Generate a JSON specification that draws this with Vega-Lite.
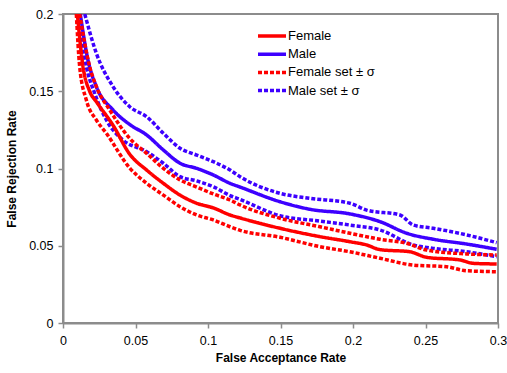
{
  "$schema": "https://vega.github.io/schema/vega-lite/v6.json",
  "width": 435,
  "height": 309,
  "autosize": {"type": "none"},
  "padding": {"left": 63, "top": 14, "right": 9, "bottom": 50},
  "background": "white",
  "config": {
    "font": "Liberation Sans",
    "view": {"stroke": "#8c8c8c", "strokeWidth": 2},
    "axis": {
      "domainColor": "#8c8c8c",
      "domainWidth": 2,
      "tickColor": "#8c8c8c",
      "tickWidth": 1.5,
      "tickSize": 5,
      "grid": false,
      "labelFont": "Liberation Sans",
      "labelFontSize": 12.5,
      "labelColor": "#000000",
      "titleFont": "Liberation Sans",
      "titleFontSize": 12,
      "titleFontWeight": "bold",
      "titleColor": "#000000"
    }
  },
  "data": {
    "values": [
      {"s": "Male set ± σ", "c": "M+", "x": 0.0150, "y": 0.2},
      {"s": "Male set ± σ", "c": "M+", "x": 0.0230, "y": 0.1746},
      {"s": "Male set ± σ", "c": "M+", "x": 0.0345, "y": 0.1530},
      {"s": "Male set ± σ", "c": "M+", "x": 0.0460, "y": 0.1400},
      {"s": "Male set ± σ", "c": "M+", "x": 0.0577, "y": 0.1335},
      {"s": "Male set ± σ", "c": "M+", "x": 0.0692, "y": 0.1228},
      {"s": "Male set ± σ", "c": "M+", "x": 0.0807, "y": 0.1131},
      {"s": "Male set ± σ", "c": "M+", "x": 0.0922, "y": 0.1087},
      {"s": "Male set ± σ", "c": "M+", "x": 0.1037, "y": 0.1044},
      {"s": "Male set ± σ", "c": "M+", "x": 0.1152, "y": 0.0990},
      {"s": "Male set ± σ", "c": "M+", "x": 0.1221, "y": 0.0947},
      {"s": "Male set ± σ", "c": "M+", "x": 0.1497, "y": 0.0839},
      {"s": "Male set ± σ", "c": "M+", "x": 0.1703, "y": 0.0807},
      {"s": "Male set ± σ", "c": "M+", "x": 0.1979, "y": 0.0775},
      {"s": "Male set ± σ", "c": "M+", "x": 0.2094, "y": 0.0731},
      {"s": "Male set ± σ", "c": "M+", "x": 0.2324, "y": 0.0699},
      {"s": "Male set ± σ", "c": "M+", "x": 0.2416, "y": 0.0634},
      {"s": "Male set ± σ", "c": "M+", "x": 0.2554, "y": 0.0613},
      {"s": "Male set ± σ", "c": "M+", "x": 0.2784, "y": 0.0570},
      {"s": "Male set ± σ", "c": "M+", "x": 0.2991, "y": 0.0520},

      {"s": "Male", "c": "M", "x": 0.0119, "y": 0.2},
      {"s": "Male", "c": "M", "x": 0.0172, "y": 0.1702},
      {"s": "Male", "c": "M", "x": 0.0230, "y": 0.1530},
      {"s": "Male", "c": "M", "x": 0.0345, "y": 0.1379},
      {"s": "Male", "c": "M", "x": 0.0460, "y": 0.1285},
      {"s": "Male", "c": "M", "x": 0.0577, "y": 0.1217},
      {"s": "Male", "c": "M", "x": 0.0692, "y": 0.1120},
      {"s": "Male", "c": "M", "x": 0.0807, "y": 0.1034},
      {"s": "Male", "c": "M", "x": 0.0922, "y": 0.1001},
      {"s": "Male", "c": "M", "x": 0.1037, "y": 0.0958},
      {"s": "Male", "c": "M", "x": 0.1152, "y": 0.0904},
      {"s": "Male", "c": "M", "x": 0.1221, "y": 0.0880},
      {"s": "Male", "c": "M", "x": 0.1497, "y": 0.0785},
      {"s": "Male", "c": "M", "x": 0.1703, "y": 0.0736},
      {"s": "Male", "c": "M", "x": 0.1979, "y": 0.0706},
      {"s": "Male", "c": "M", "x": 0.2186, "y": 0.0656},
      {"s": "Male", "c": "M", "x": 0.2370, "y": 0.0581},
      {"s": "Male", "c": "M", "x": 0.2554, "y": 0.0542},
      {"s": "Male", "c": "M", "x": 0.2784, "y": 0.0511},
      {"s": "Male", "c": "M", "x": 0.2991, "y": 0.0477},

      {"s": "Male set ± σ", "c": "M-", "x": 0.0103, "y": 0.2},
      {"s": "Male set ± σ", "c": "M-", "x": 0.0161, "y": 0.1659},
      {"s": "Male set ± σ", "c": "M-", "x": 0.0218, "y": 0.1487},
      {"s": "Male set ± σ", "c": "M-", "x": 0.0299, "y": 0.1314},
      {"s": "Male set ± σ", "c": "M-", "x": 0.0414, "y": 0.1184},
      {"s": "Male set ± σ", "c": "M-", "x": 0.0577, "y": 0.1109},
      {"s": "Male set ± σ", "c": "M-", "x": 0.0692, "y": 0.1034},
      {"s": "Male set ± σ", "c": "M-", "x": 0.0807, "y": 0.0947},
      {"s": "Male set ± σ", "c": "M-", "x": 0.0922, "y": 0.0920},
      {"s": "Male set ± σ", "c": "M-", "x": 0.1037, "y": 0.0882},
      {"s": "Male set ± σ", "c": "M-", "x": 0.1152, "y": 0.0825},
      {"s": "Male set ± σ", "c": "M-", "x": 0.1221, "y": 0.0800},
      {"s": "Male set ± σ", "c": "M-", "x": 0.1497, "y": 0.0694},
      {"s": "Male set ± σ", "c": "M-", "x": 0.1772, "y": 0.0660},
      {"s": "Male set ± σ", "c": "M-", "x": 0.1979, "y": 0.0634},
      {"s": "Male set ± σ", "c": "M-", "x": 0.2186, "y": 0.0602},
      {"s": "Male set ± σ", "c": "M-", "x": 0.2416, "y": 0.0505},
      {"s": "Male set ± σ", "c": "M-", "x": 0.2554, "y": 0.0483},
      {"s": "Male set ± σ", "c": "M-", "x": 0.2784, "y": 0.0461},
      {"s": "Male set ± σ", "c": "M-", "x": 0.2991, "y": 0.0429},

      {"s": "Female set ± σ", "c": "F+", "x": 0.0115, "y": 0.2},
      {"s": "Female set ± σ", "c": "F+", "x": 0.0184, "y": 0.1659},
      {"s": "Female set ± σ", "c": "F+", "x": 0.0230, "y": 0.1530},
      {"s": "Female set ± σ", "c": "F+", "x": 0.0322, "y": 0.1379},
      {"s": "Female set ± σ", "c": "F+", "x": 0.0460, "y": 0.1195},
      {"s": "Female set ± σ", "c": "F+", "x": 0.0577, "y": 0.1098},
      {"s": "Female set ± σ", "c": "F+", "x": 0.0692, "y": 0.1001},
      {"s": "Female set ± σ", "c": "F+", "x": 0.0807, "y": 0.0926},
      {"s": "Female set ± σ", "c": "F+", "x": 0.0922, "y": 0.0880},
      {"s": "Female set ± σ", "c": "F+", "x": 0.1037, "y": 0.0835},
      {"s": "Female set ± σ", "c": "F+", "x": 0.1152, "y": 0.0796},
      {"s": "Female set ± σ", "c": "F+", "x": 0.1221, "y": 0.0764},
      {"s": "Female set ± σ", "c": "F+", "x": 0.1497, "y": 0.0678},
      {"s": "Female set ± σ", "c": "F+", "x": 0.1772, "y": 0.0623},
      {"s": "Female set ± σ", "c": "F+", "x": 0.1979, "y": 0.0581},
      {"s": "Female set ± σ", "c": "F+", "x": 0.2186, "y": 0.0542},
      {"s": "Female set ± σ", "c": "F+", "x": 0.2370, "y": 0.0516},
      {"s": "Female set ± σ", "c": "F+", "x": 0.2508, "y": 0.0472},
      {"s": "Female set ± σ", "c": "F+", "x": 0.2784, "y": 0.0447},
      {"s": "Female set ± σ", "c": "F+", "x": 0.2991, "y": 0.0440},

      {"s": "Female", "c": "F", "x": 0.0099, "y": 0.2},
      {"s": "Female", "c": "F", "x": 0.0138, "y": 0.1659},
      {"s": "Female", "c": "F", "x": 0.0184, "y": 0.1500},
      {"s": "Female", "c": "F", "x": 0.0232, "y": 0.1430},
      {"s": "Female", "c": "F", "x": 0.0345, "y": 0.1280},
      {"s": "Female", "c": "F", "x": 0.0462, "y": 0.1090},
      {"s": "Female", "c": "F", "x": 0.0577, "y": 0.0990},
      {"s": "Female", "c": "F", "x": 0.0692, "y": 0.0904},
      {"s": "Female", "c": "F", "x": 0.0807, "y": 0.0828},
      {"s": "Female", "c": "F", "x": 0.0922, "y": 0.0775},
      {"s": "Female", "c": "F", "x": 0.1037, "y": 0.0745},
      {"s": "Female", "c": "F", "x": 0.1152, "y": 0.0699},
      {"s": "Female", "c": "F", "x": 0.1221, "y": 0.0680},
      {"s": "Female", "c": "F", "x": 0.1497, "y": 0.0613},
      {"s": "Female", "c": "F", "x": 0.1772, "y": 0.0559},
      {"s": "Female", "c": "F", "x": 0.1979, "y": 0.0526},
      {"s": "Female", "c": "F", "x": 0.2094, "y": 0.0505},
      {"s": "Female", "c": "F", "x": 0.2186, "y": 0.0475},
      {"s": "Female", "c": "F", "x": 0.2393, "y": 0.0461},
      {"s": "Female", "c": "F", "x": 0.2508, "y": 0.0425},
      {"s": "Female", "c": "F", "x": 0.2738, "y": 0.0408},
      {"s": "Female", "c": "F", "x": 0.2830, "y": 0.0386},
      {"s": "Female", "c": "F", "x": 0.2991, "y": 0.0382},

      {"s": "Female set ± σ", "c": "F-", "x": 0.0092, "y": 0.2},
      {"s": "Female set ± σ", "c": "F-", "x": 0.0115, "y": 0.1659},
      {"s": "Female set ± σ", "c": "F-", "x": 0.0161, "y": 0.1443},
      {"s": "Female set ± σ", "c": "F-", "x": 0.0230, "y": 0.1314},
      {"s": "Female set ± σ", "c": "F-", "x": 0.0299, "y": 0.1228},
      {"s": "Female set ± σ", "c": "F-", "x": 0.0462, "y": 0.1001},
      {"s": "Female set ± σ", "c": "F-", "x": 0.0577, "y": 0.0904},
      {"s": "Female set ± σ", "c": "F-", "x": 0.0692, "y": 0.0828},
      {"s": "Female set ± σ", "c": "F-", "x": 0.0807, "y": 0.0753},
      {"s": "Female set ± σ", "c": "F-", "x": 0.0922, "y": 0.0699},
      {"s": "Female set ± σ", "c": "F-", "x": 0.1037, "y": 0.0667},
      {"s": "Female set ± σ", "c": "F-", "x": 0.1152, "y": 0.0623},
      {"s": "Female set ± σ", "c": "F-", "x": 0.1221, "y": 0.0600},
      {"s": "Female set ± σ", "c": "F-", "x": 0.1497, "y": 0.0555},
      {"s": "Female set ± σ", "c": "F-", "x": 0.1772, "y": 0.0494},
      {"s": "Female set ± σ", "c": "F-", "x": 0.1979, "y": 0.0461},
      {"s": "Female set ± σ", "c": "F-", "x": 0.2186, "y": 0.0419},
      {"s": "Female set ± σ", "c": "F-", "x": 0.2416, "y": 0.0375},
      {"s": "Female set ± σ", "c": "F-", "x": 0.2646, "y": 0.0364},
      {"s": "Female set ± σ", "c": "F-", "x": 0.2784, "y": 0.0338},
      {"s": "Female set ± σ", "c": "F-", "x": 0.2991, "y": 0.0332}
    ]
  },
  "mark": {"type": "line", "interpolate": "monotone", "clip": true},
  "encoding": {
    "x": {
      "field": "x", "type": "quantitative",
      "scale": {"domain": [0, 0.3], "nice": false},
      "axis": {"values": [0, 0.05, 0.1, 0.15, 0.2, 0.25, 0.3], "format": "~g", "title": "False Acceptance Rate", "labelPadding": 6, "titlePadding": 6, "labelFlush": false}
    },
    "y": {
      "field": "y", "type": "quantitative",
      "scale": {"domain": [0, 0.2], "nice": false},
      "axis": {"values": [0, 0.05, 0.1, 0.15, 0.2], "format": "~g", "title": "False Rejection Rate", "labelPadding": 5, "titlePadding": 10, "labelFlush": false}
    },
    "detail": {"field": "c"},
    "order": {"field": "x", "type": "quantitative"},
    "color": {
      "field": "s", "type": "nominal",
      "scale": {"domain": ["Female", "Male", "Female set ± σ", "Male set ± σ"], "range": ["#ff0000", "#3d00ff", "#ff0000", "#3d00ff"]},
      "legend": {"title": null, "orient": "none", "legendX": 200, "legendY": 13, "symbolType": "M-2,0H2", "symbolSize": 196, "labelFontSize": 13, "labelFont": "Liberation Sans", "labelColor": "#000000", "labelOffset": 7, "rowPadding": 2.2}
    },
    "strokeDash": {
      "field": "s", "type": "nominal",
      "scale": {"domain": ["Female", "Male", "Female set ± σ", "Male set ± σ"], "range": [[1, 0], [1, 0], [4, 2], [4, 2]]},
      "legend": null
    },
    "strokeWidth": {
      "field": "s", "type": "nominal",
      "scale": {"domain": ["Female", "Male", "Female set ± σ", "Male set ± σ"], "range": [3.5, 3.5, 2, 2]},
      "legend": null
    }
  }
}
